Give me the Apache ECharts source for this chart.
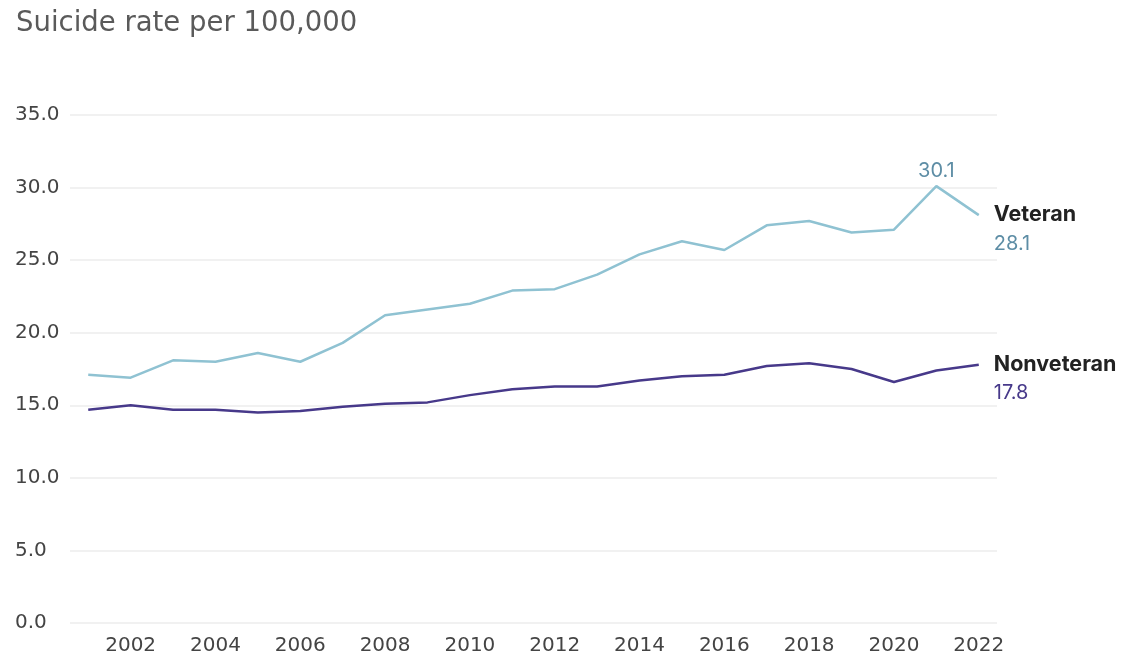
<!DOCTYPE html>
<html>
<head>
<meta charset="utf-8">
<style>
  html, body { margin: 0; padding: 0; background: #ffffff; }
  #chart { width: 1123px; height: 657px; }
</style>
<script src="https://cdn.jsdelivr.net/npm/echarts@6/dist/echarts.min.js"></script>
</head>
<body>
<div id="chart"></div>
<script>
// Suicide rate per 100,000, veterans vs. non-veterans, 2001–2022
const years = [2001, 2002, 2003, 2004, 2005, 2006, 2007, 2008, 2009, 2010, 2011,
               2012, 2013, 2014, 2015, 2016, 2017, 2018, 2019, 2020, 2021, 2022];
const veteran = [17.1, 16.9, 18.1, 18.0, 18.6, 18.0, 19.3, 21.2, 21.6, 22.0, 22.9,
                 23.0, 24.0, 25.4, 26.3, 25.7, 27.4, 27.7, 26.9, 27.1, 30.1, 28.1];
const nonveteran = [14.7, 15.0, 14.7, 14.7, 14.5, 14.6, 14.9, 15.1, 15.2, 15.7, 16.1,
                    16.3, 16.3, 16.7, 17.0, 17.1, 17.7, 17.9, 17.5, 16.6, 17.4, 17.8];
const xTickYears = [2002, 2004, 2006, 2008, 2010, 2012, 2014, 2016, 2018, 2020, 2022];
const titleText = 'Suicide rate per 100,000';
const peakYear = 2021;

const WIDE = '"DejaVu Sans", sans-serif';
const FONT = 'Inter, "Liberation Sans", sans-serif';
const VET_LINE = '#8fc2d2';
const VET_TEXT = '#5d8da5';
const NON_LINE = '#47398a';
const NON_TEXT = '#47398a';

const chart = echarts.init(document.getElementById('chart'), null, { renderer: 'canvas' });

const toPairs = arr => years.map((y, i) => [y, arr[i]]);

// Only the peak year carries a value label above the line
const vetData = toPairs(veteran).map(p => {
  if (p[0] === peakYear) {
    return {
      value: p,
      label: {
        show: true, position: 'top', distance: 5,
        formatter: p[1].toFixed(1),
        color: VET_TEXT, fontSize: 20, fontFamily: FONT
      }
    };
  }
  return p;
});

const endLabel = (name, value, textColor) => ({
  show: true,
  distance: 15,
  offset: [0, 14],
  formatter: '{n|' + name + '}\n{v|' + value.toFixed(1) + '}',
  rich: {
    n: { fontSize: 21.5, fontWeight: 'bold', color: '#222222', fontFamily: FONT, lineHeight: 29 },
    v: { fontSize: 20, color: textColor, fontFamily: FONT, lineHeight: 29 }
  }
});

chart.setOption({
  animation: false,
  title: {
    text: titleText,
    left: 11, top: 5,
    textStyle: { fontFamily: WIDE, fontSize: 27.5, fontWeight: 'normal', color: '#5a5a5a' }
  },
  grid: { left: 70, right: 126, top: 115, bottom: 34, containLabel: false },
  xAxis: {
    type: 'value',
    min: 2000.57, max: 2022.43,
    axisLine: { show: false },
    axisTick: { show: false },
    splitLine: { show: false },
    axisLabel: {
      customValues: xTickYears,
      formatter: v => String(v),
      fontFamily: WIDE, fontSize: 20, color: '#444444', margin: 13
    }
  },
  yAxis: {
    type: 'value',
    min: 0, max: 35, interval: 5,
    axisLine: { show: false },
    axisTick: { show: false },
    splitLine: { lineStyle: { color: '#ececec', width: 1.5 } },
    axisLabel: {
      formatter: v => v.toFixed(1),
      fontFamily: WIDE, fontSize: 20, color: '#444444',
      align: 'left', margin: 55
    }
  },
  series: [
    {
      name: 'Veteran', type: 'line',
      data: vetData,
      symbol: 'circle', symbolSize: 0,
      lineStyle: { color: VET_LINE, width: 2.5 },
      itemStyle: { color: VET_LINE },
      endLabel: endLabel('Veteran', veteran[veteran.length - 1], VET_TEXT)
    },
    {
      name: 'Nonveteran', type: 'line',
      data: toPairs(nonveteran),
      symbol: 'none',
      lineStyle: { color: NON_LINE, width: 2.5 },
      itemStyle: { color: NON_LINE },
      endLabel: endLabel('Nonveteran', nonveteran[nonveteran.length - 1], NON_TEXT)
    }
  ]
});
</script>
</body>
</html>
